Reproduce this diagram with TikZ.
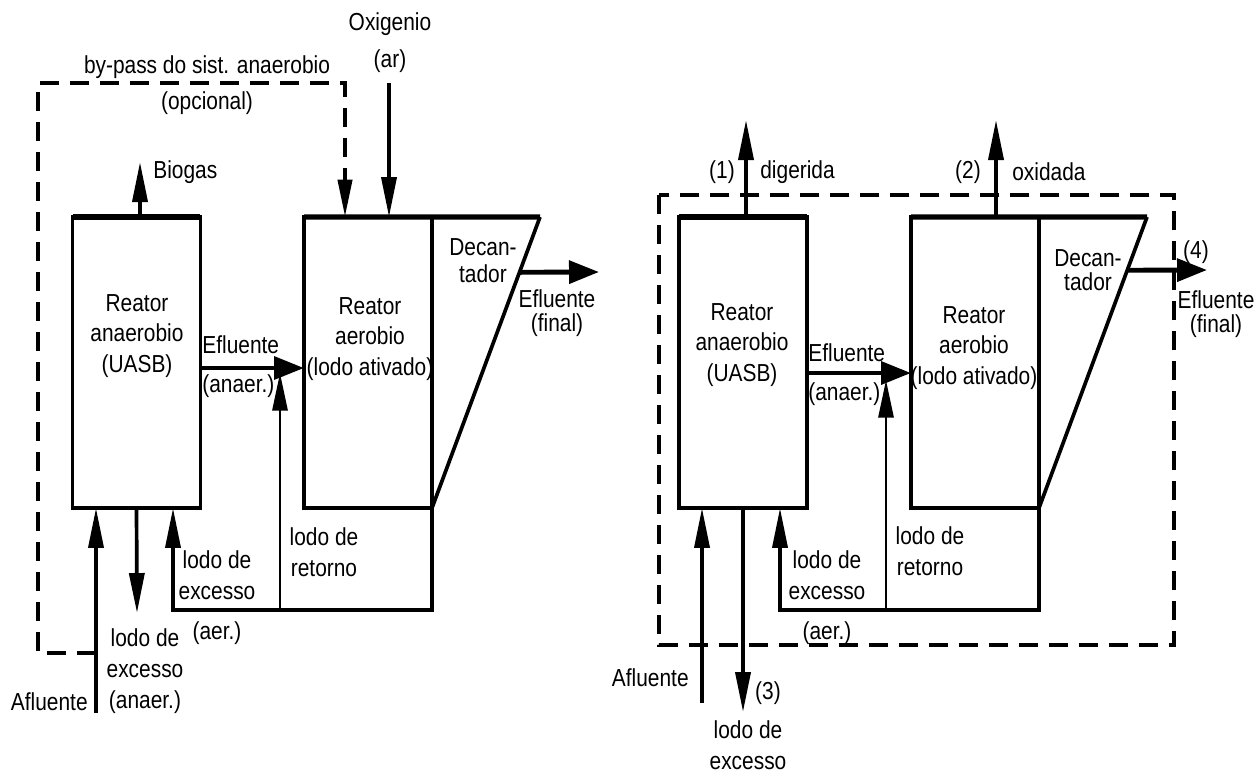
\documentclass[tikz,border=0pt]{standalone}
\usepackage{fontspec}
\setmainfont{Liberation Sans}[FakeStretch=0.85]
\usetikzlibrary{arrows.meta}
\tikzset{
    tank/.style={draw, line width=2.1pt, minimum width=2.56cm, minimum height=5.82cm, inner sep=0pt, outer sep=0pt},
    lid/.style={draw, line width=3pt},
    pipe/.style={draw, line width=2.1pt},
    flow/.style={draw, line width=2.1pt, -{Triangle[length=0.8cm, width=0.3cm]}},
    thinflow/.style={draw, line width=1.6pt, -{Triangle[length=0.75cm, width=0.3cm]}},
    hflow/.style={draw, line width=2.8pt, -{Triangle[length=0.6cm, width=0.45cm]}},
    bypass/.style={draw, line width=2.4pt, dash pattern=on 0.38cm off 0.22cm},
    lbl/.style={inner sep=0pt, align=center, font=\fontsize{14pt}{17.6pt}\selectfont}
}

\begin{document}
\begin{tikzpicture}[x=0.02cm, y=-0.02cm]
    \useasboundingbox (0,0) rectangle (1256,772);

    % Nodes (left: UASB + lodo ativado)
    \node[tank] (an1) at (136.5,362.5) {};
    \node[tank] (ae1) at (368,362.5) {};
    \coordinate (dc1) at (540,217);
    \coordinate (bg1) at (140,162);
    \coordinate (ox1) at (389,83);
    \coordinate (af1) at (96,713);
    \coordinate (ex1) at (137,613);
    \coordinate (rt1) at (432,610);
    \coordinate (xs1) at (173,610);
    \coordinate (rr1) at (280,610);
    \coordinate (lv1) at (0,368);
    \coordinate (lr1) at (0,373);
    \coordinate (fo1) at (599,272);
    \coordinate (bp1a) at (96,653);
    \coordinate (bp1b) at (38,653);
    \coordinate (bp1c) at (38,83);
    \coordinate (bp1d) at (345,83);
    \path (dc1) -- (ae1.south east) coordinate[pos=0.19] (so1);

    \node[lbl] (ox1t) at (390,43) {Oxigenio\\[0.12cm](ar)};
    \node[lbl] (bp1t) at (207,85) {by-pass do sist. anaerobio\\[0.1cm](opcional)};
    \node[lbl, anchor=west] (bg1t) at (153,172) {Biogas};
    \node[lbl] (an1t) at (137,336) {Reator\\anaerobio\\(UASB)};
    \node[lbl] (ae1t) at (370,339) {Reator\\aerobio\\(lodo ativado)};
    \node[lbl] (dc1t) at (483,261) {Decan-\\[-0.08cm]tador};
    \node[lbl] (fo1t) at (557,313) {Efluente\\[-0.14cm](final)};
    \node[lbl, anchor=west, align=left] (ef1t) at (202,367) {Efluente\\[0.16cm](anaer.)};
    \node[lbl] (xs1t) at (217,598) {lodo de\\excesso\\[0.18cm](aer.)};
    \node[lbl] (rr1t) at (324,552) {lodo de\\retorno};
    \node[lbl] (ex1t) at (145,671) {lodo de\\excesso\\(anaer.)};
    \node[lbl, anchor=east] (af1t) at (88,702) {Afluente};

    % edges (left)
    \draw[bypass, -{Triangle[length=0.75cm, width=0.28cm]}] (bp1a) -- (bp1b) -- (bp1c) -- (bp1d) -- (bp1d |- ae1.north);
    \draw[lid] (an1.north west) -- (an1.north east);
    \draw[lid] (ae1.north west) -- (dc1);
    \draw[pipe] (dc1) -- (ae1.south east);
    \draw[flow] (bg1 |- an1.north) -- (bg1);
    \draw[flow] (ox1) -- (ox1 |- ae1.north);
    \draw[flow] (af1) -- (af1 |- an1.south);
    \draw[flow] (an1.south) -- (ex1);
    \draw[hflow] (an1.east |- lv1) -- (ae1.west |- lv1);
    \draw[flow] (ae1.south east) -- (rt1) -- (xs1) -- (xs1 |- an1.south);
    \draw[thinflow] (rr1) -- (rr1 |- lr1);
    \draw[hflow] (so1) -- (fo1);

    % Nodes (right: balanco)
    \node[tank] (an2) at (743,362.5) {};
    \node[tank] (ae2) at (975,362.5) {};
    \coordinate (dc2) at (1147,217);
    \coordinate (dg2) at (746,120);
    \coordinate (ox2) at (996,120);
    \coordinate (af2) at (702,703);
    \coordinate (ex2) at (743,712);
    \coordinate (rt2) at (1039,610);
    \coordinate (xs2) at (780,610);
    \coordinate (rr2) at (886,610);
    \coordinate (lv2) at (0,373);
    \coordinate (lr2) at (0,380);
    \coordinate (fo2) at (1207,270);
    \coordinate (sy2a) at (659,195);
    \coordinate (sy2b) at (1174,645);
    \path (dc2) -- (ae2.south east) coordinate[pos=0.183] (so2);

    \node[lbl] (dg2n) at (722,172) {(1)};
    \node[lbl, anchor=west] (dg2t) at (760,172) {digerida};
    \node[lbl] (ox2n) at (968,172) {(2)};
    \node[lbl, anchor=west] (ox2t) at (1012,172) {oxidada};
    \node[lbl] (an2t) at (742,345) {Reator\\anaerobio\\(UASB)};
    \node[lbl] (ae2t) at (974,348) {Reator\\aerobio\\(lodo ativado)};
    \node[lbl] (dc2t) at (1088,270) {Decan-\\[-0.14cm]tador};
    \node[lbl] (fo2n) at (1196,252) {(4)};
    \node[lbl] (fo2t) at (1216,314) {Efluente\\[-0.14cm](final)};
    \node[lbl, anchor=west, align=left] (ef2t) at (808,375) {Efluente\\[0.16cm](anaer.)};
    \node[lbl] (xs2t) at (827,598) {lodo de\\excesso\\[0.18cm](aer.)};
    \node[lbl] (rr2t) at (930,551) {lodo de\\retorno};
    \node[lbl, anchor=east] (af2t) at (689,678) {Afluente};
    \node[lbl] (ex2n) at (768,693) {(3)};
    \node[lbl] (ex2t) at (748,745) {lodo de\\excesso};

    % edges (right)
    \draw[bypass] (sy2a) rectangle (sy2b);
    \draw[lid] (an2.north west) -- (an2.north east);
    \draw[lid] (ae2.north west) -- (dc2);
    \draw[pipe] (dc2) -- (ae2.south east);
    \draw[flow] (dg2 |- an2.north) -- (dg2);
    \draw[flow] (ox2 |- ae2.north) -- (ox2);
    \draw[flow] (af2) -- (af2 |- an2.south);
    \draw[flow] (an2.south) -- (ex2);
    \draw[hflow] (an2.east |- lv2) -- (ae2.west |- lv2);
    \draw[flow] (ae2.south east) -- (rt2) -- (xs2) -- (xs2 |- an2.south);
    \draw[thinflow] (rr2) -- (rr2 |- lr2);
    \draw[hflow] (so2) -- (fo2);
\end{tikzpicture}
\end{document}
